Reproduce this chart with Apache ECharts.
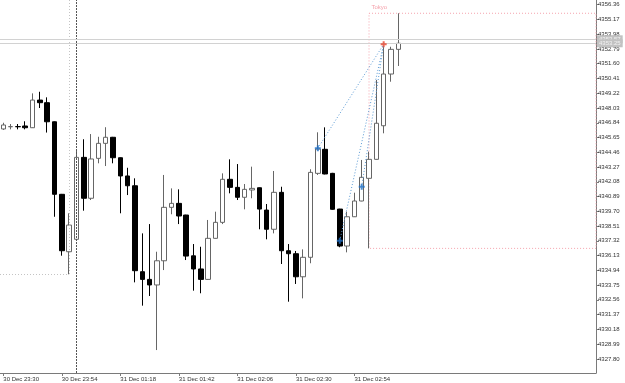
<!DOCTYPE html>
<html>
<head>
<meta charset="utf-8">
<title>XAUUSD M3</title>
<script src="https://cdn.jsdelivr.net/npm/echarts@6/dist/echarts.min.js"></script>
<style>
    html, body { margin: 0; padding: 0; background: #fff; }
    #chart { width: 625px; height: 383px; }
</style>
</head>
<body>
<div id="chart"></div>
<script>
    // 3 minute bars, 30 Dec 23:30 -> 31 Dec 03:06 (daily break after 23:57)
    var open = [4346.34, 4346.52, 4346.53, 4346.58, 4346.44, 4348.67, 4348.46, 4346.92, 4341.07, 4336.44,
        4337.44, 4344.05, 4340.75, 4343.97, 4345.18, 4345.67, 4344.02, 4342.55, 4341.76, 4334.83,
        4334.21, 4333.76, 4335.71, 4340.02, 4340.34, 4339.40, 4336.11, 4335.05, 4334.21, 4337.52,
        4338.81, 4342.28, 4341.63, 4340.83, 4341.42, 4341.60, 4339.80, 4338.25, 4341.23, 4336.52,
        4336.28, 4334.42, 4335.99, 4342.76, 4344.70, 4342.76, 4339.88, 4336.90, 4339.26, 4340.53,
        4342.36, 4343.89, 4346.60, 4350.77, 4352.76];
    var high = [4346.84, 4346.74, 4346.74, 4346.96, 4349.21, 4349.34, 4348.89, 4346.95, 4341.10, 4339.54,
        4344.72, 4345.51, 4345.93, 4345.71, 4346.48, 4345.70, 4344.05, 4343.21, 4342.36, 4337.92,
        4338.67, 4336.44, 4342.63, 4341.55, 4341.47, 4339.42, 4337.06, 4336.84, 4339.00, 4339.67,
        4342.76, 4343.89, 4343.51, 4341.90, 4343.30, 4341.62, 4340.29, 4342.95, 4341.68, 4337.06,
        4336.50, 4336.63, 4343.09, 4346.07, 4346.47, 4342.80, 4339.90, 4339.67, 4341.20, 4343.84,
        4344.51, 4350.29, 4352.97, 4352.97, 4355.67];
    var low = [4346.26, 4346.31, 4346.31, 4346.31, 4346.42, 4348.03, 4346.05, 4339.26, 4336.12, 4334.62,
        4337.40, 4339.75, 4340.61, 4343.57, 4343.35, 4343.57, 4339.54, 4341.01, 4333.97, 4332.09,
        4332.87, 4328.51, 4334.96, 4339.46, 4338.67, 4335.77, 4333.30, 4333.09, 4334.18, 4337.50,
        4338.67, 4341.15, 4340.61, 4339.86, 4340.75, 4338.25, 4337.44, 4337.92, 4335.45, 4332.41,
        4333.84, 4332.68, 4335.51, 4342.63, 4342.68, 4339.82, 4336.80, 4336.39, 4339.24, 4340.51,
        4336.71, 4343.87, 4345.99, 4350.15, 4351.42];
    var close = [4346.66, 4346.53, 4346.52, 4346.44, 4348.67, 4348.46, 4346.92, 4341.07, 4336.52, 4338.59,
        4344.05, 4340.75, 4343.92, 4345.18, 4345.67, 4344.02, 4342.55, 4341.76, 4334.91, 4334.21,
        4333.76, 4335.71, 4340.02, 4340.34, 4339.32, 4336.09, 4335.05, 4334.21, 4337.52, 4338.81,
        4342.28, 4341.63, 4340.83, 4341.47, 4341.55, 4339.88, 4338.25, 4341.23, 4336.52, 4336.28,
        4334.42, 4335.99, 4342.84, 4344.72, 4342.71, 4339.86, 4336.90, 4339.26, 4340.53, 4342.44,
        4343.89, 4346.80, 4350.77, 4352.76, 4353.25];

    // time axis labels (every 8th bar)
    var labelBars = [0, 8, 16, 24, 32, 40, 48];
    var timeLabels = ['30 Dec 23:30', '30 Dec 23:54', '31 Dec 01:18', '31 Dec 01:42',
        '31 Dec 02:06', '31 Dec 02:30', '31 Dec 02:54'];

    var priceTicks = [4327.80, 4328.99, 4330.18, 4331.37, 4332.56, 4333.75, 4334.94, 4336.13,
        4337.32, 4338.51, 4339.70, 4340.89, 4342.08, 4343.27, 4344.46, 4345.65, 4346.84,
        4348.03, 4349.22, 4350.41, 4351.60, 4352.79, 4353.98, 4355.17, 4356.36];

    // trades
    var buyBars = [43, 46, 49];
    var buyPrices = [4344.78, 4337.33, 4341.68];
    var exitBar = 52;
    var exitPrice = 4353.17;

    var bid = 4353.25;
    var ask = 4353.57;

    // sessions
    var tokyoStart = 50, tokyoHigh = 4355.67, tokyoLow = 4336.71;
    var prevSessionEnd = 9, prevSessionLow = 4334.62;
    var daySeparator = 10;

    var xMin = -0.451, xMax = 81.03;
    var yMin = 4326.66, yMax = 4356.74;

    var candles = open.map(function (o, i) {
        return [i, o, close[i], low[i], high[i]];
    });

    var labelFont = {fontSize: 6, fontFamily: 'Liberation Sans', color: '#333'};

    var chart = echarts.init(document.getElementById('chart'));

    var option = {
        animation: false,
        backgroundColor: '#fff',
        grid: {left: 0, right: 29, top: 0, bottom: 10},
        xAxis: {
            type: 'value',
            min: xMin,
            max: xMax,
            axisLine: {onZero: false, lineStyle: {color: '#7a7a7a'}},
            axisTick: {customValues: labelBars, length: 3, lineStyle: {color: '#7a7a7a'}},
            axisLabel: Object.assign({
                customValues: labelBars,
                align: 'left',
                margin: 3,
                formatter: function (v) {
                    return timeLabels[labelBars.indexOf(v)] || '';
                }
            }, labelFont),
            splitLine: {show: false}
        },
        yAxis: {
            type: 'value',
            position: 'right',
            min: yMin,
            max: yMax,
            axisLine: {show: true, onZero: false, lineStyle: {color: '#7a7a7a'}},
            axisTick: {show: true, customValues: priceTicks, length: 3, lineStyle: {color: '#7a7a7a'}},
            axisLabel: Object.assign({
                customValues: priceTicks,
                margin: 2,
                formatter: function (v) { return v.toFixed(2); }
            }, labelFont),
            splitLine: {show: false}
        },
        series: [
            {
                type: 'candlestick',
                silent: true,
                barWidth: 5,
                data: candles,
                itemStyle: {
                    color: '#ffffff',
                    color0: '#000000',
                    borderColor: '#666666',
                    borderColor0: '#000000',
                    borderWidth: 1
                },
                markLine: {
                    silent: true,
                    symbol: ['none', 'none'],
                    label: {show: false},
                    data: [
                        {xAxis: daySeparator, lineStyle: {color: '#555', type: [2, 1], width: 1}},
                        [
                            {coord: [xMin, prevSessionLow], lineStyle: {color: '#c4c4c4', type: [1, 2], width: 1}},
                            {coord: [prevSessionEnd, prevSessionLow]}
                        ],
                        [
                            {coord: [prevSessionEnd, yMax], lineStyle: {color: '#c4c4c4', type: [1, 2], width: 1}},
                            {coord: [prevSessionEnd, prevSessionLow]}
                        ],
                        {
                            yAxis: ask,
                            lineStyle: {color: '#d2d2d2', type: 'solid', width: 1},
                            label: {
                                show: true, position: 'end', distance: 1,
                                formatter: function (p) { return p.value.toFixed(2); },
                                backgroundColor: '#c2c2c2', color: '#f2f2f2',
                                fontSize: 6, fontFamily: 'Liberation Sans', padding: [1, 2]
                            }
                        },
                        {
                            yAxis: bid,
                            lineStyle: {color: '#d2d2d2', type: 'solid', width: 1},
                            label: {
                                show: true, position: 'end', distance: 1,
                                formatter: function (p) { return p.value.toFixed(2); },
                                backgroundColor: '#c2c2c2', color: '#f2f2f2',
                                fontSize: 6, fontFamily: 'Liberation Sans', padding: [1, 2]
                            }
                        }
                    ]
                },
                markArea: {
                    silent: true,
                    itemStyle: {color: 'rgba(0,0,0,0)', borderColor: '#f5a3ad', borderWidth: 1, borderType: [1, 2]},
                    label: {
                        show: true, position: [3, -8], color: '#f5a3ad',
                        fontSize: 6, fontFamily: 'Liberation Sans'
                    },
                    data: [[
                        {name: 'Tokyo', coord: [tokyoStart, tokyoHigh]},
                        {coord: [xMax, tokyoLow]}
                    ]]
                }
            },
            {
                // buy entries with dotted lines to the exit
                type: 'scatter',
                silent: true,
                z: 5,
                symbol: 'path://M2,0h2v2h2v2h-2v2h-2v-2h-2v-2h2z',
                symbolSize: 6,
                itemStyle: {color: '#1f6fc5'},
                data: buyBars.map(function (b, i) { return [b, buyPrices[i]]; }),
                markLine: {
                    silent: true,
                    symbol: ['none', 'none'],
                    label: {show: false},
                    lineStyle: {color: '#5b9bd5', type: [1, 2], width: 1},
                    data: buyBars.map(function (b, i) {
                        return [{coord: [b, buyPrices[i]]}, {coord: [exitBar, exitPrice]}];
                    })
                }
            },
            {
                type: 'scatter',
                silent: true,
                z: 6,
                symbol: 'path://M2,0h2v2h2v2h-2v2h-2v-2h-2v-2h2z',
                symbolSize: 6,
                itemStyle: {color: '#e5432e'},
                data: [[exitBar, exitPrice]]
            }
        ]
    };

    chart.setOption(option);
</script>
</body>
</html>
